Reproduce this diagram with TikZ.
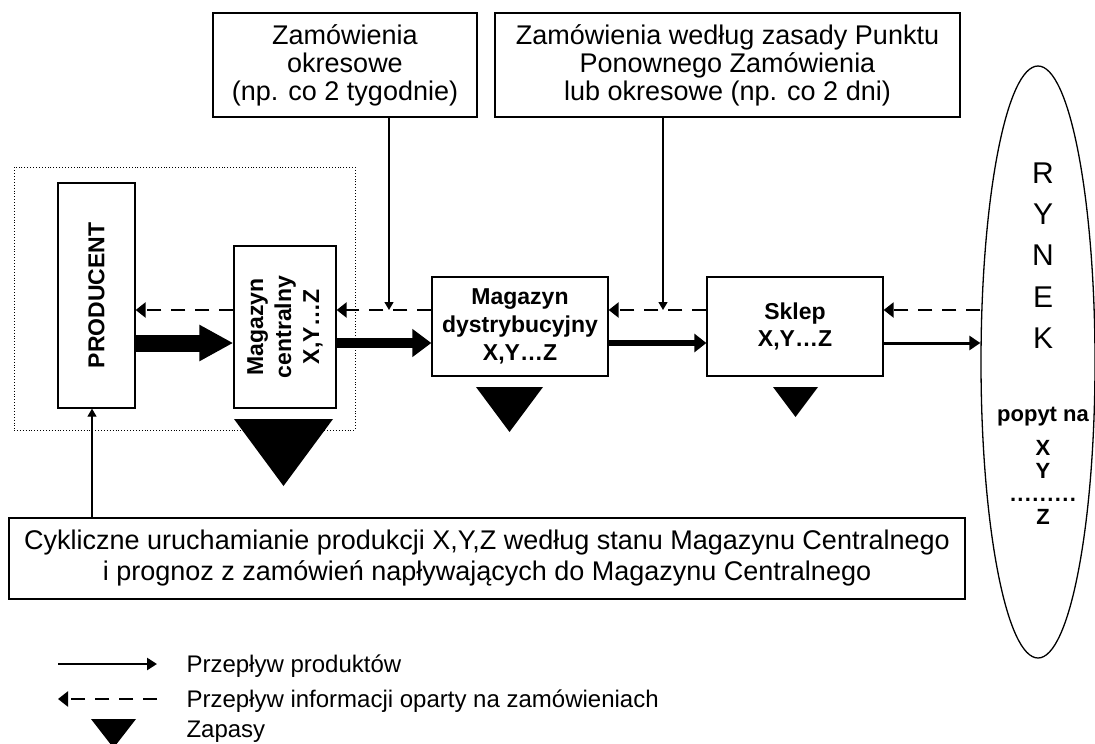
\documentclass[tikz,border=0pt]{standalone}
\usepackage{fontspec}
\setmainfont{Liberation Sans}
\usetikzlibrary{arrows.meta,shapes.geometric}
\begin{document}
\begin{tikzpicture}[x=1pt,y=-1pt,
  box/.style={draw, line width=1.3pt, inner sep=0pt, align=center},
  reg/.style={font=\fontsize{27}{28}\selectfont},
  bld/.style={font=\bfseries\fontsize{23}{28}\selectfont},
  info/.style={line width=2.4pt, dash pattern=on 14pt off 10pt, -{Triangle[length=10pt,width=15pt]}},
  order/.style={line width=1.3pt, -{Triangle[length=8pt,width=9pt]}},
  leg/.style={anchor=base west, font=\fontsize{24}{24}\selectfont},
  stack/.style={font=\bfseries\fontsize{22}{23}\selectfont, inner sep=0pt, align=center},
  stock/.style={fill=black},
]
\useasboundingbox (0,0) rectangle (1095,744);
% group frame
\node[draw, dotted, line width=0.9pt, minimum width=341pt, minimum height=263pt, inner sep=0pt] (grp) at (184.5,298.5) {};
% top boxes
\node[box, reg, minimum width=264pt, minimum height=104pt] (top1) at (345,65) {Zamówienia\\okresowe\\(np. co 2 tygodnie)};
\node[box, reg, minimum width=465pt, minimum height=104pt] (top2) at (727.5,65) {Zamówienia według zasady Punktu\\Ponownego Zamówienia\\lub okresowe (np. co 2 dni)};
% chain
\node[box, minimum width=77pt, minimum height=225pt] (prod) at (96.5,295.5) {};
\node[bld, rotate=90] (prodt) at (prod.center) {PRODUCENT};
\node[box, minimum width=102pt, minimum height=162pt] (magc) at (285,327) {};
\node[bld, rotate=90, align=center] (magct) at (magc.center) {Magazyn\\centralny\\X,Y…Z};
\node[box, bld, minimum width=176pt, minimum height=99pt] (magd) at (520,326.5) {Magazyn\\dystrybucyjny\\X,Y…Z};
\node[box, font=\bfseries\fontsize{23}{27}\selectfont, minimum width=176pt, minimum height=99pt] (sklep) at (795,326.5) {Sklep\\X,Y…Z};
\node[box, font=\fontsize{27}{31}\selectfont, minimum width=956pt, minimum height=81pt] (cyk) at (487,558.5) {Cykliczne uruchamianie produkcji X,Y,Z według stanu Magazynu Centralnego\\i prognoz z zamówień napływających do Magazynu Centralnego};
% market
\node[draw, ellipse, line width=1.3pt, minimum width=114pt, minimum height=592pt, inner sep=0pt] (rynek) at (1038,362) {};
\node[font=\fontsize{30}{41.25}\selectfont, align=center] (rynekt) at (1043,255.5) {R\\Y\\N\\E\\K};
\node[stack] (popyt) at (1043,417) {popyt na};
\node[stack] (pstack) at (1043,482.6) {X\\Y\\\makebox[66pt]{.\hfill.\hfill.\hfill.\hfill.\hfill.\hfill.\hfill.\hfill.}\\Z};
% coordinates
\coordinate (fy) at (0,343);
\coordinate (iy) at (0,310);
\coordinate (o1) at (389,310);
\coordinate (o2) at (663,310);
\coordinate (c1) at (92,0);
% product flow
\draw[line width=17pt, -{Triangle[length=34pt,width=34pt]}] (prod.east |- fy) -- (magc.west |- fy);
\draw[line width=10pt, -{Triangle[length=19pt,width=27pt]}] (magc.east |- fy) -- (magd.west |- fy);
\draw[line width=6pt, -{Triangle[length=12pt,width=18pt]}] (magd.east |- fy) -- (sklep.west |- fy);
\draw[line width=3pt, -{Triangle[length=11pt,width=14pt]}] (sklep.east |- fy) -- (rynek.west |- fy);
% information flow
\draw[info] (rynek.west |- iy) -- (sklep.east |- iy);
\draw[info] (sklep.west |- iy) -- (magd.east |- iy);
\draw[info] (magd.west |- iy) -- (magc.east |- iy);
\draw[info] (magc.west |- iy) -- (prod.east |- iy);
% orders
\draw[order] (top1.south -| o1) -- (o1);
\draw[order] (top2.south -| o2) -- (o2);
\draw[order] (cyk.north -| c1) -- (prod.south -| c1);
% stocks
\fill[stock] (234,419) -- (333,419) -- (283.5,486) -- cycle;
\fill[stock] (476,387) -- (543,387) -- (509.5,432) -- cycle;
\fill[stock] (773,387) -- (818,387) -- (795.5,417) -- cycle;
% legend
\coordinate (l1a) at (58,664);
\coordinate (l1b) at (157,664);
\coordinate (l2a) at (157,699);
\coordinate (l2b) at (58,699);
\draw[line width=2.5pt, -{Triangle[length=10pt,width=12pt]}] (l1a) -- (l1b);
\draw[info] (l2a) -- (l2b);
\fill[stock] (91,719) -- (136,719) -- (113.5,748) -- cycle;
\node[leg] (lg1) at (183,672) {Przepływ produktów};
\node[leg] (lg2) at (183,707) {Przepływ informacji oparty na zamówieniach};
\node[leg] (lg3) at (183,737) {Zapasy};
\end{tikzpicture}
\end{document}
